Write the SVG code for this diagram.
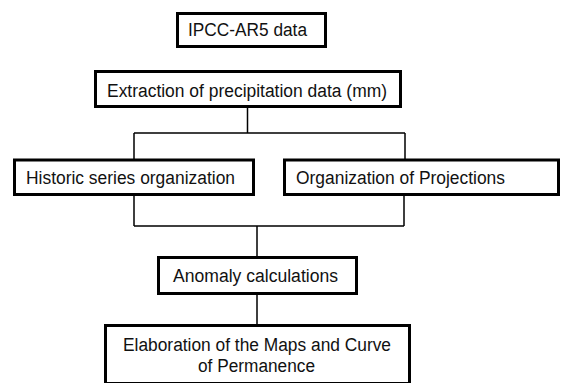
<svg xmlns="http://www.w3.org/2000/svg" width="561" height="383" viewBox="0 0 561 383">
<style>
.box{fill:#fff;stroke:#000;stroke-width:3}
.t{font-family:"Liberation Sans",Arial,sans-serif;font-size:18px;fill:#111;text-anchor:middle}
.c{stroke:#000;stroke-width:1.5;fill:none}
</style>
<rect width="561" height="383" fill="#fff"/>
<g id="connectors">
<path class="c" d="M247.5,108 V133 M134,133 H405 M134,133 V159 M405,133 V159"/>
<path class="c" d="M134,196 V226 M404,196 V226 M134,226 H404 M257,226 V256 M257,295 V324"/>
</g>
<g id="n1"><rect class="box" x="177.5" y="13.5" width="148" height="33"/><text class="t" x="247.5" y="36" textLength="119" lengthAdjust="spacingAndGlyphs">IPCC-AR5 data</text></g>
<g id="n2"><rect class="box" x="95.5" y="71.5" width="305" height="35"/><text class="t" x="247" y="96.5" textLength="280" lengthAdjust="spacingAndGlyphs">Extraction of precipitation data (mm)</text></g>
<g id="n3"><rect class="box" x="14.5" y="160" width="239" height="34.5"/><text class="t" x="130.5" y="184" textLength="209" lengthAdjust="spacingAndGlyphs">Historic series organization</text></g>
<g id="n4"><rect class="box" x="284.5" y="160" width="274" height="34.5"/><text class="t" x="400.5" y="184" textLength="209" lengthAdjust="spacingAndGlyphs">Organization of Projections</text></g>
<g id="n5"><rect class="box" x="158.5" y="257.5" width="198" height="36"/><text class="t" x="255.5" y="281.5" textLength="165" lengthAdjust="spacingAndGlyphs">Anomaly calculations</text></g>
<g id="n6"><rect class="box" x="105.5" y="325.5" width="304" height="58"/><text class="t" x="257" y="351" textLength="268" lengthAdjust="spacingAndGlyphs">Elaboration of the Maps and Curve</text><text class="t" x="256.5" y="372" textLength="117" lengthAdjust="spacingAndGlyphs">of Permanence</text></g>
</svg>
